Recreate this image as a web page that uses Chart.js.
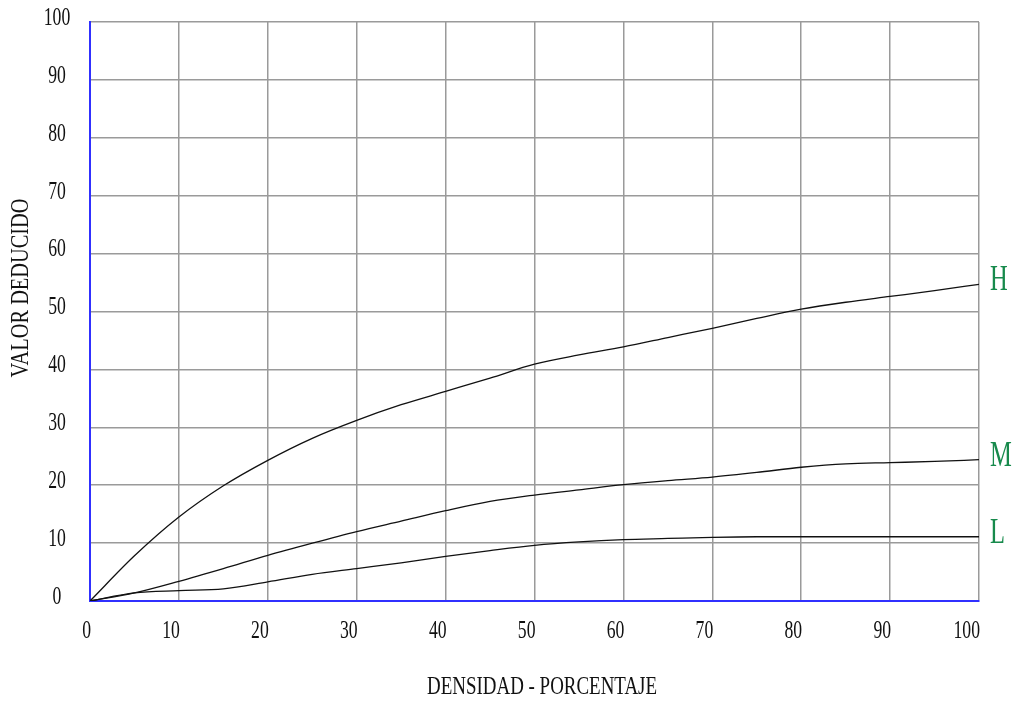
<!DOCTYPE html>
<html>
<head>
<meta charset="utf-8">
<script src="https://cdn.jsdelivr.net/npm/chart.js@4/dist/chart.umd.min.js"></script>
<style>
    html, body { margin: 0; padding: 0; background: #ffffff; }
    #wrap { width: 1017px; height: 704px; }
</style>
</head>
<body>
<div id="wrap"><canvas id="chart"></canvas></div>
<script>
const densidad = [0, 5, 10, 15, 20, 25, 30, 35, 40, 45, 50, 55, 60, 65, 70, 75, 80, 85, 90, 95, 100];
const curvaH = [0, 7.8, 14.5, 19.9, 24.3, 28.1, 31.2, 33.9, 36.2, 38.5, 40.9, 42.5, 43.9, 45.5, 47.1, 48.8, 50.4, 51.6, 52.6, 53.6, 54.7];
const curvaM = [0, 1.4, 3.4, 5.6, 7.9, 10.0, 12.0, 13.8, 15.6, 17.2, 18.3, 19.2, 20.1, 20.8, 21.4, 22.2, 23.1, 23.7, 23.9, 24.1, 24.4];
const curvaL = [0, 1.4, 1.8, 2.1, 3.3, 4.6, 5.6, 6.6, 7.7, 8.7, 9.6, 10.2, 10.6, 10.8, 11.0, 11.1, 11.1, 11.1, 11.1, 11.1, 11.1];
const severidades = ["H", "M", "L"];

const FONT = '"Liberation Serif", "Times New Roman", serif';
const INK = "#111111";
const GREEN = "#178a4c";
const GRID = "#9a9a9a";
const AXIS_BLUE = "#3030ff";
const SQUEEZE = 0.68;

function toPoints(values) {
    return densidad.map((x, i) => ({ x: x, y: values[i] }));
}

function curve(label, values) {
    return {
        label: label,
        data: toPoints(values),
        borderColor: INK,
        borderWidth: 1.3,
        pointRadius: 0,
        cubicInterpolationMode: "monotone",
        fill: false,
    };
}

function drawText(ctx, text, x, y, opts) {
    ctx.save();
    ctx.font = `${opts.size}px ${FONT}`;
    ctx.fillStyle = opts.color || INK;
    ctx.textBaseline = "middle";
    ctx.textAlign = opts.align || "center";
    ctx.translate(x, y);
    if (opts.rotate) {
        ctx.rotate(opts.rotate);
    }
    let sx = opts.squeeze || SQUEEZE;
    if (opts.fitWidth) {
        sx = opts.fitWidth / ctx.measureText(text).width;
    }
    ctx.scale(sx, 1);
    ctx.fillText(text, 0, 0);
    ctx.restore();
}

// tick labels and titles are drawn narrow, like the condensed serif of the original
const narrowText = {
    id: "narrowText",
    afterDraw(chart) {
        const ctx = chart.ctx;
        const xs = chart.scales.x;
        const ys = chart.scales.y;

        ys.ticks.forEach((tick) => {
            drawText(ctx, String(tick.value), 57, ys.getPixelForValue(tick.value) - 4, { size: 26 });
        });
        xs.ticks.forEach((tick) => {
            drawText(ctx, String(tick.value), xs.getPixelForValue(tick.value) + 1, 631, { size: 26, align: "right" });
        });

        drawText(ctx, "DENSIDAD - PORCENTAJE", 542, 687, { size: 26, fitWidth: 230 });
        drawText(ctx, "VALOR DEDUCIDO", 21, 288, { size: 25, fitWidth: 179, rotate: -Math.PI / 2 });

        chart.data.datasets.forEach((ds, i) => {
            const pts = chart.getDatasetMeta(i).data;
            const last = pts[pts.length - 1];
            drawText(ctx, severidades[i], 990, last.y - 3, { size: 35, align: "left", color: GREEN, squeeze: 0.7 });
        });
    },
};

new Chart(document.getElementById("chart"), {
    type: "line",
    data: {
        datasets: [
            curve("H", curvaH),
            curve("M", curvaM),
            curve("L", curvaL),
        ],
    },
    options: {
        responsive: true,
        maintainAspectRatio: false,
        animation: false,
        layout: { padding: { left: 90, right: 38, top: 22, bottom: 103 } },
        plugins: {
            legend: { display: false },
            tooltip: { enabled: false },
        },
        scales: {
            x: {
                type: "linear",
                min: 0,
                max: 100,
                ticks: { display: false, stepSize: 10 },
                grid: { color: GRID, lineWidth: 1.5, drawTicks: false },
                border: { color: AXIS_BLUE, width: 2 },
            },
            y: {
                type: "linear",
                min: 0,
                max: 100,
                ticks: { display: false, stepSize: 10 },
                grid: { color: GRID, lineWidth: 1.5, drawTicks: false },
                border: { color: AXIS_BLUE, width: 2 },
            },
        },
    },
    plugins: [narrowText],
});
</script>
</body>
</html>
